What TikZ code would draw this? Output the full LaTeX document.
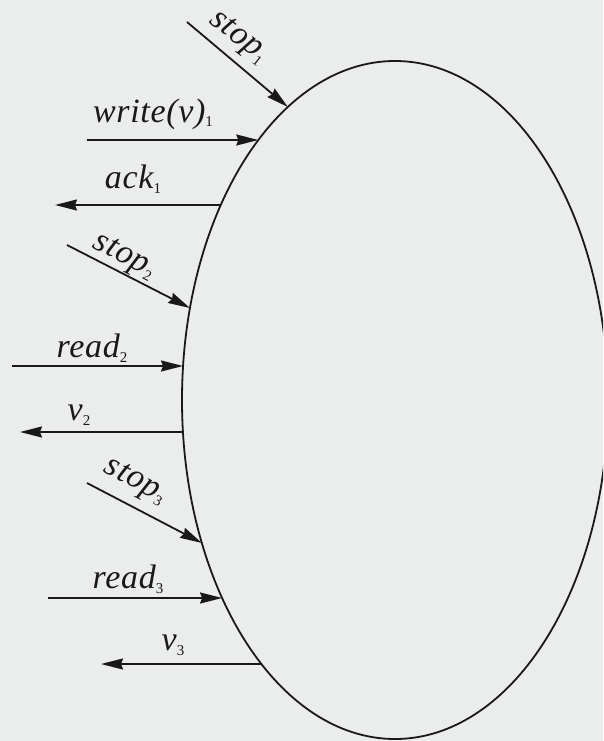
\documentclass[tikz,border=0pt]{standalone}
\usepackage{fontspec}
\setmainfont{Liberation Serif}[LetterSpace=2]
\usetikzlibrary{arrows.meta}
\definecolor{bg}{RGB}{235,236,236}
\definecolor{ink}{RGB}{25,25,25}
\newcommand\lab[2]{{\itshape #1}\raisebox{-5pt}{\fontsize{15}{15}\selectfont\upshape #2}}
\begin{document}
\begin{tikzpicture}[x=1pt,y=-1pt,
  arr/.style={draw=ink, line width=1.8pt, -{Stealth[length=22pt,width=11pt,inset=2pt]}},
  lbl/.style={inner sep=0pt, font=\fontsize{34}{36}\selectfont, text=ink}]
\fill[bg] (0,0) rectangle (603,741);
\useasboundingbox (0,0) rectangle (603,741);
\clip (0,0) rectangle (603,741);
\draw[ink, line width=1.8pt] (395,400) ellipse [x radius=213, y radius=339];
% points on the ellipse
\coordinate (e1) at (287.9,107);
\coordinate (e2) at (258.3,140);
\coordinate (e3) at (220.8,205);
\coordinate (e4) at (190,308);
\coordinate (e5) at (183,366);
\coordinate (e6) at (183,432);
\coordinate (e7) at (201.9,543);
\coordinate (e8) at (222.1,598);
\coordinate (e9) at (261.4,664);
% free ends
\coordinate (s1) at (187,22);
\coordinate (s2) at (87,140);
\coordinate (s3) at (55,205);
\coordinate (s4) at (67,245);
\coordinate (s5) at (12,366);
\coordinate (s6) at (20,432);
\coordinate (s7) at (87,483);
\coordinate (s8) at (48,598);
\coordinate (s9) at (101,664);
\draw[arr] (s1) -- (e1);
\draw[arr] (s2) -- (e2);
\draw[arr] (e3) -- (s3);
\draw[arr] (s4) -- (e4);
\draw[arr] (s5) -- (e5);
\draw[arr] (e6) -- (s6);
\draw[arr] (s7) -- (e7);
\draw[arr] (s8) -- (e8);
\draw[arr] (e9) -- (s9);
% labels
\node[lbl, rotate=-38] (l1) at (238,38) {\lab{stop}{1}};
\node[lbl, anchor=base] (l2) at (153,122) {\lab{write(v)}{1}};
\node[lbl, anchor=base] (l3) at (133,188) {\lab{ack}{1}};
\node[lbl, rotate=-27] (l4) at (124,257) {\lab{stop}{2}};
\node[lbl, anchor=base] (l5) at (92,357) {\lab{read}{2}};
\node[lbl, anchor=base] (l6) at (79,420) {\lab{v}{2}};
\node[lbl, rotate=-28] (l7) at (135,482) {\lab{stop}{3}};
\node[lbl, anchor=base] (l8) at (128,588) {\lab{read}{3}};
\node[lbl, anchor=base] (l9) at (173,650) {\lab{v}{3}};
\end{tikzpicture}
\end{document}
